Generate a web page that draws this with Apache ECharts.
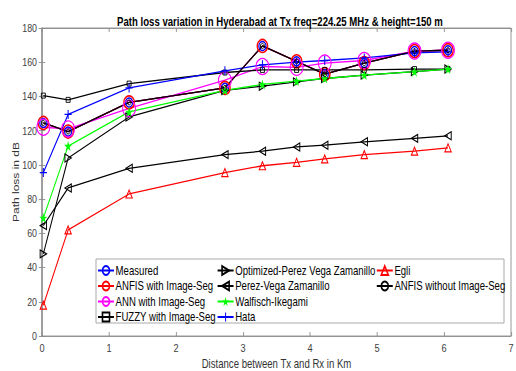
<!DOCTYPE html>
<html>
<head>
<meta charset="utf-8">
<script src="https://cdn.jsdelivr.net/npm/echarts@6/dist/echarts.min.js"></script>
<style>
  html, body { margin: 0; padding: 0; background: #fff; overflow: hidden; }
  /* the reference figure is horizontally squeezed, so draw wider and squeeze */
  #wrap { width: 516px; height: 371px; overflow: hidden; }
  #chart { width: 645px; height: 371px; transform: scaleX(0.8); transform-origin: 0 0; }
</style>
</head>
<body>
<div id="wrap"><div id="chart"></div></div>
<script>
// distance between Tx and Rx (km)
const distance = [0.02, 0.39, 1.3, 2.73, 3.29, 3.8, 4.22, 4.81, 5.56, 6.06];

const measured      = [124.5, 119.5, 136.5, 145, 169.5, 160.5, 153, 159.5, 166.5, 167];
const anfisSeg      = [124.5, 119.5, 136.5, 145, 169.5, 160.5, 153, 159.5, 166.5, 167];
const annSeg        = [122, 121, 133, 149.5, 157.5, 157, 159.5, 161, 166.5, 167];
const fuzzySeg      = [140.5, 138, 147.5, 154, 155.5, 155.5, 155.5, 155.5, 156, 156];
const optPerezVega  = [48, 104, 128, 143.5, 146, 148.5, 150.5, 152.5, 154.5, 156];
const perezVega     = [64.5, 86.5, 98, 106, 108, 110.5, 111.5, 113.5, 115.5, 117];
const walfisch      = [69, 111, 131, 143.5, 147, 149, 150.5, 152.5, 154.5, 156];
const hata          = [95.5, 129.5, 145, 155, 158.5, 160, 161, 162.5, 165.5, 166];
const egli          = [18, 62, 83, 95.5, 99.5, 101.5, 103.5, 106, 108, 110];
const anfisNoSeg    = [124.5, 119.5, 136.5, 145, 169.5, 160.5, 153, 159.5, 166.5, 167];

const legendCol1 = ['Measured', 'ANFIS with Image-Seg', 'ANN with Image-Seg', 'FUZZY with Image-Seg'];
const legendCol2 = ['Optimized-Perez Vega Zamanillo', 'Perez-Vega Zamanillo', 'Walfisch-Ikegami', 'Hata'];
const legendCol3 = ['Egli', 'ANFIS without Image-Seg'];

const pts = (ys) => distance.map((d, i) => [d, ys[i]]);
const font = "'Liberation Sans', Arial, sans-serif";
const PLUS = 'path://M4.3,0H5.7V4.3H10V5.7H5.7V10H4.3V5.7H0V4.3H4.3Z';
const STAR = 'path://M5,0L6.2,3.8L10,3.8L6.9,6.1L8.1,10L5,7.6L1.9,10L3.1,6.1L0,3.8L3.8,3.8Z';
const axisGray = '#8c8c8c';

function lineSeries(name, ys, color, symbol, size, opts = {}) {
  const hollow = opts.hollow !== false;
  return {
    name,
    type: 'line',
    data: pts(ys),
    symbol,
    symbolSize: size,
    symbolRotate: opts.rotate || 0,
    showAllSymbol: true,
    lineStyle: { color, width: 1.3 },
    itemStyle: hollow
      ? { color: 'rgba(0,0,0,0)', borderColor: color, borderWidth: opts.bw || 1.2 }
      : { color, borderWidth: 0 },
    emphasis: { disabled: true },
  };
}

const chart = echarts.init(document.getElementById('chart'), null, { renderer: 'svg' });

const legendBase = {
  orient: 'vertical',
  itemWidth: 20,
  itemHeight: 11,
  itemGap: 3.5,
  padding: 0,
  top: 264.5,
  textStyle: { fontFamily: font, fontSize: 12, color: '#000', padding: [0, 0, 0, -3] },
  selectedMode: false,
  z: 10,
};

chart.setOption({
  backgroundColor: '#fff',
  animation: false,
  title: {
    text: 'Path loss variation in Hyderabad at Tx freq=224.25 MHz & height=150 m',
    left: 345,
    textAlign: 'center',
    top: 11,
    textStyle: { fontFamily: font, fontWeight: 'bold', fontSize: 12, color: '#000' },
  },
  grid: {
    left: 52.5, right: 6.25, top: 28, bottom: 35,
    outerBoundsMode: 'none',
    show: true, borderColor: axisGray, borderWidth: 1,
  },
  graphic: [{
    type: 'rect',
    shape: { x: 120, y: 259, width: 510, height: 64 },
    style: { fill: '#fff', stroke: '#a0a0a0', lineWidth: 1 },
    z: 5,
  }],
  legend: [
    Object.assign({}, legendBase, { data: legendCol1, left: 121.5 }),
    Object.assign({}, legendBase, { data: legendCol2, left: 271 }),
    Object.assign({}, legendBase, { data: legendCol3, left: 470 }),
  ],
  xAxis: [{
    type: 'value', min: 0, max: 7, interval: 1,
    name: 'Distance between Tx and Rx in Km',
    nameLocation: 'middle', nameGap: 22, nameMoveOverlap: false,
    nameTextStyle: { fontFamily: font, fontSize: 12, color: '#333' },
    axisLine: { show: true, onZero: false, lineStyle: { color: axisGray } },
    axisTick: { inside: true, length: 4, lineStyle: { color: axisGray } },
    axisLabel: { fontFamily: font, fontSize: 11.5, color: '#404040', margin: 6 },
    splitLine: { show: false },
  }, {
    type: 'value', min: 0, max: 7, interval: 1, position: 'top',
    axisLine: { show: true, onZero: false, lineStyle: { color: axisGray } },
    axisTick: { inside: true, length: 4, lineStyle: { color: axisGray } },
    axisLabel: { show: false },
    splitLine: { show: false },
  }],
  yAxis: [{
    type: 'value', min: 0, max: 180, interval: 20,
    name: 'Path loss in dB',
    nameLocation: 'middle', nameGap: 27, nameMoveOverlap: false,
    nameTextStyle: { fontFamily: font, fontSize: 12, color: '#333' },
    axisLine: { show: true, lineStyle: { color: axisGray } },
    axisTick: { show: true, inside: true, length: 4, lineStyle: { color: axisGray } },
    axisLabel: { fontFamily: font, fontSize: 11, color: '#404040', margin: 6.25 },
    splitLine: { show: false },
  }, {
    type: 'value', min: 0, max: 180, interval: 20, position: 'right',
    axisLine: { show: true, lineStyle: { color: axisGray } },
    axisTick: { show: true, inside: true, length: 4, lineStyle: { color: axisGray } },
    axisLabel: { show: false },
    splitLine: { show: false },
  }],
  series: [
    lineSeries('Measured', measured, '#0000ff', 'circle', 9, { bw: 1.5 }),
    lineSeries('ANFIS with Image-Seg', anfisSeg, '#ff0000', 'circle', 13, { bw: 1.6 }),
    lineSeries('ANN with Image-Seg', annSeg, '#ff00ff', 'circle', 16, { bw: 1.3 }),
    lineSeries('FUZZY with Image-Seg', fuzzySeg, '#000000', 'rect', 5, { bw: 1 }),
    lineSeries('Optimized-Perez Vega Zamanillo', optPerezVega, '#000000', 'triangle', 8, { rotate: -90 }),
    lineSeries('Perez-Vega Zamanillo', perezVega, '#000000', 'triangle', 8, { rotate: 90 }),
    lineSeries('Walfisch-Ikegami', walfisch, '#00ff00', STAR, 10, { hollow: false }),
    lineSeries('Hata', hata, '#0000ff', PLUS, 9, { hollow: false }),
    lineSeries('Egli', egli, '#ff0000', 'triangle', 8),
    lineSeries('ANFIS without Image-Seg', anfisNoSeg, '#000000', 'circle', 5, { bw: 1 }),
  ],
});
</script>
</body>
</html>
